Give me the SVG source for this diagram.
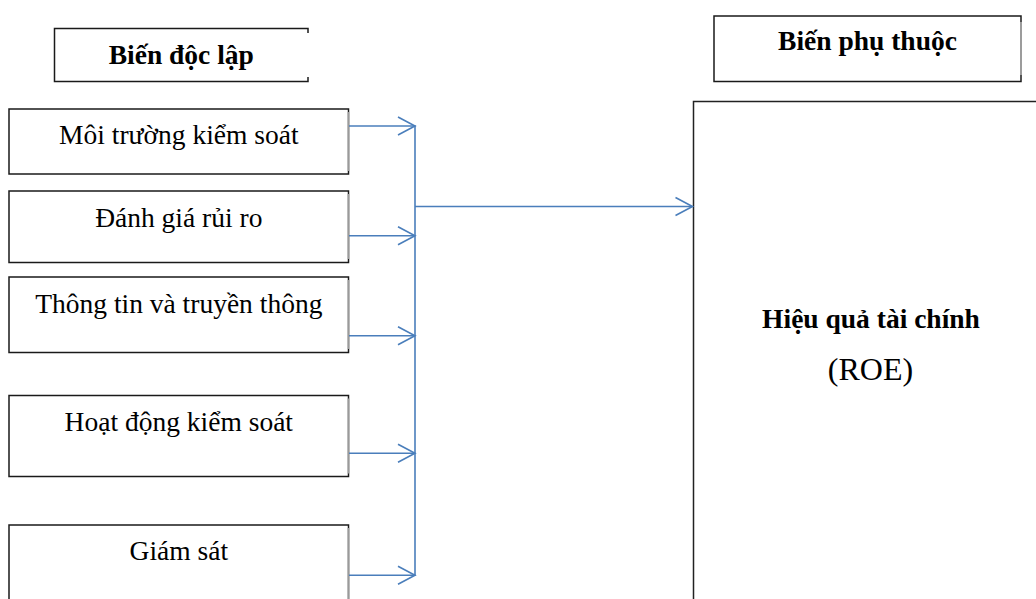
<svg xmlns="http://www.w3.org/2000/svg" width="1036" height="599" viewBox="0 0 1036 599">
  <style>
    .box { fill: #ffffff; stroke: #1a1a1a; stroke-width: 1.5; }
    .redge { stroke: #9a9a9a; stroke-width: 1.5; }
    .lbl { font-family: "Liberation Serif", "Times New Roman", serif; font-size: 27.5px; fill: #000; text-anchor: middle; }
    .b { font-weight: bold; }
    .conn { fill: none; stroke: #4A7EBB; stroke-width: 1.6; }
  </style>
  <defs>
    <marker id="arr" markerUnits="userSpaceOnUse" markerWidth="20" markerHeight="20" refX="17" refY="9" orient="auto" overflow="visible">
      <path d="M0,0 L17,9 L0,18" fill="none" stroke="#4A7EBB" stroke-width="1.6"/>
    </marker>
  </defs>
  <rect width="1036" height="599" fill="#ffffff"/>

  <g id="hdr-doc-lap">
    <rect class="box" x="54.5" y="28.5" width="253.5" height="53"/>
    <line x1="308" y1="33" x2="308" y2="77" style="stroke:#ffffff;stroke-width:2"/>
    <text class="lbl b" x="181.3" y="63.5">Biến độc lập</text>
  </g>

  <g id="hdr-phu-thuoc">
    <rect class="box" x="714" y="16" width="307" height="65.5"/>
    <line x1="1021" y1="22" x2="1021" y2="75" style="stroke:#b0b0b0;stroke-width:1.6"/>
    <text class="lbl b" x="867.5" y="50">Biến phụ thuộc</text>
  </g>

  <g id="n1">
    <rect class="box" x="9" y="109" width="339.5" height="65"/>
    <line class="redge" x1="348.5" y1="112" x2="348.5" y2="171"/>
    <text class="lbl" x="178.8" y="143.5">Môi trường kiểm soát</text>
  </g>
  <g id="n2">
    <rect class="box" x="9" y="191" width="339.5" height="71.5"/>
    <line class="redge" x1="348.5" y1="194" x2="348.5" y2="259"/>
    <text class="lbl" x="178.8" y="226.7">Đánh giá rủi ro</text>
  </g>
  <g id="n3">
    <rect class="box" x="9" y="277" width="339.5" height="75.5"/>
    <line class="redge" x1="348.5" y1="280" x2="348.5" y2="349"/>
    <text class="lbl" x="178.8" y="312.7">Thông tin và truyền thông</text>
  </g>
  <g id="n4">
    <rect class="box" x="9" y="395.5" width="339.5" height="81"/>
    <line class="redge" x1="348.5" y1="398.5" x2="348.5" y2="473.5"/>
    <text class="lbl" x="178.8" y="430.7">Hoạt động kiểm soát</text>
  </g>
  <g id="n5">
    <rect class="box" x="9" y="525" width="339.5" height="90"/>
    <line class="redge" x1="348.5" y1="528" x2="348.5" y2="599"/>
    <text class="lbl" x="178.8" y="560">Giám sát</text>
  </g>

  <g id="roe">
    <rect class="box" x="693.5" y="101.5" width="360" height="520" style="stroke:#222"/>
    <text class="lbl b" x="871" y="327.7">Hiệu quả tài chính</text>
    <text class="lbl" x="870.5" y="380" style="font-size:32px">(ROE)</text>
  </g>

  <g id="connectors">
    <line class="conn" x1="349" y1="126" x2="415" y2="126" marker-end="url(#arr)"/>
    <line class="conn" x1="349" y1="235.7" x2="415" y2="235.7" marker-end="url(#arr)"/>
    <line class="conn" x1="349" y1="335.7" x2="415" y2="335.7" marker-end="url(#arr)"/>
    <line class="conn" x1="349" y1="453.3" x2="415" y2="453.3" marker-end="url(#arr)"/>
    <line class="conn" x1="349" y1="575.3" x2="415" y2="575.3" marker-end="url(#arr)"/>
    <line class="conn" x1="415" y1="125.2" x2="415" y2="576.1"/>
    <line class="conn" x1="415" y1="206.5" x2="692.5" y2="206.5" marker-end="url(#arr)"/>
  </g>
</svg>
